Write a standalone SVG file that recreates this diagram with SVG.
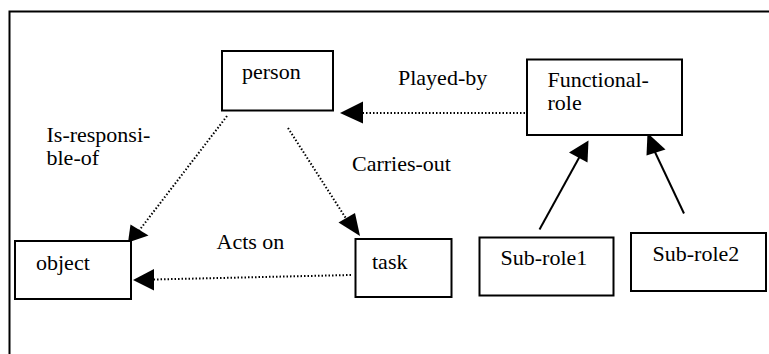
<svg xmlns="http://www.w3.org/2000/svg" width="769" height="354" viewBox="0 0 769 354">
<style>
.box{fill:#fff;stroke:#000;stroke-width:2}
.dot{fill:none;stroke:#000;stroke-width:2;stroke-dasharray:1.5 2}
.solid{fill:none;stroke:#000;stroke-width:2}
.head{fill:#000;stroke:none}
</style>
<rect width="769" height="354" fill="#fff"/>
<path d="M9.5 354 V11.5 H769" fill="none" stroke="#000" stroke-width="2"/>
<g id="connectors">
<line class="dot" x1="532" y1="113" x2="362" y2="113"/>
<polygon class="head" points="340,113 363,101.5 363,123.5"/>
<line class="dot" x1="227" y1="116" x2="138" y2="232"/>
<polygon class="head" points="128,242.5 130.5,224.5 148.5,235.5"/>
<line class="dot" x1="288" y1="128" x2="347" y2="220"/>
<polygon class="head" points="360,236 338.5,222.5 355,213"/>
<line class="dot" x1="351" y1="275" x2="154" y2="279.5"/>
<polygon class="head" points="133,280 154,269 154,290.5"/>
<line class="solid" x1="539.5" y1="229.5" x2="580" y2="156"/>
<polygon class="head" points="588.5,140.5 569,152.5 587.5,162.5"/>
<line class="solid" x1="684" y1="213.5" x2="654" y2="150"/>
<polygon class="head" points="647.5,133 646.5,155.5 665.5,149.5"/>
</g>
<g id="person"><rect class="box" x="222" y="51" width="111" height="59.5"/><text font-family="Liberation Serif, Times New Roman, serif" font-size="22" x="242" y="79">person</text></g>
<g id="functional-role"><rect class="box" x="527" y="59.5" width="155" height="75.5"/><text font-family="Liberation Serif, Times New Roman, serif" font-size="22" x="547.5" y="86.5">Functional-</text><text font-family="Liberation Serif, Times New Roman, serif" font-size="22" x="547.5" y="110">role</text></g>
<g id="object"><rect class="box" x="15" y="241" width="116" height="58"/><text font-family="Liberation Serif, Times New Roman, serif" font-size="22" x="36" y="270">object</text></g>
<g id="task"><rect class="box" x="355.5" y="239" width="96" height="58"/><text font-family="Liberation Serif, Times New Roman, serif" font-size="22" x="372" y="269">task</text></g>
<g id="sub-role1"><rect class="box" x="479.5" y="237.5" width="134" height="58"/><text font-family="Liberation Serif, Times New Roman, serif" font-size="22" x="500.5" y="265">Sub-role1</text></g>
<g id="sub-role2"><rect class="box" x="631" y="233" width="135" height="58"/><text font-family="Liberation Serif, Times New Roman, serif" font-size="22" x="652.5" y="260.5">Sub-role2</text></g>
<g id="labels">
<text font-family="Liberation Serif, Times New Roman, serif" font-size="22" x="398" y="85">Played-by</text>
<text font-family="Liberation Serif, Times New Roman, serif" font-size="22" x="46.5" y="141.5">Is-responsi-</text>
<text font-family="Liberation Serif, Times New Roman, serif" font-size="22" x="46.5" y="165">ble-of</text>
<text font-family="Liberation Serif, Times New Roman, serif" font-size="22" x="352" y="170.5">Carries-out</text>
<text font-family="Liberation Serif, Times New Roman, serif" font-size="22" x="216.5" y="249">Acts on</text>
</g>
</svg>
